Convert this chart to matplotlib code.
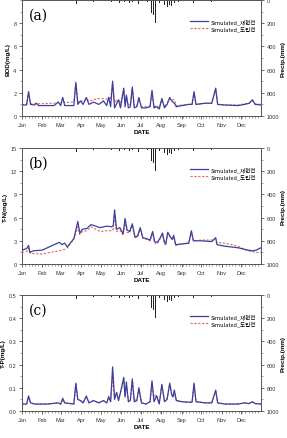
import matplotlib
matplotlib.use('Agg')
import matplotlib.pyplot as plt
import numpy as np

plt.rcParams['font.family'] = ['Liberation Sans', 'Noto Sans CJK KR']

# ---- data ----
months = ['Jan', 'Feb', 'Mar', 'Apr', 'May', 'Jun', 'Jul', 'Aug', 'Sep', 'Oct', 'Nov', 'Dec']
month_days = [1, 32, 60, 91, 121, 152, 182, 213, 244, 274, 305, 335]
labels = ['Simulated_재현전', 'Simulated_도입전']

# precipitation (mm), hanging from the top
rain_day = [5, 20, 33, 45, 58, 70, 78, 84, 95, 103, 110, 120, 127, 133, 138, 145, 150, 157,
            164, 170, 178, 185, 192, 198, 201, 205, 210, 218, 222, 226, 229, 233, 240, 250,
            262, 275, 290, 310, 325, 340, 355]
rain_mm = [5, 10, 6, 8, 6, 12, 8, 35, 10, 8, 15, 10, 12, 8, 20, 10, 25, 15,
           30, 20, 35, 12, 18, 110, 130, 200, 30, 40, 60, 45, 55, 30, 15, 10,
           25, 10, 20, 8, 6, 6, 5]

# (a) BOD
bod_day = [1, 8, 11, 14, 20, 23, 26, 50, 56, 60, 63, 66, 80, 83, 86, 90, 94, 99, 103, 110, 118,
           125, 130, 133, 136, 139, 142, 148, 151, 156, 158, 160, 163, 166, 169, 172, 176, 179,
           183, 190, 196, 199, 202, 206, 210, 214, 218, 222, 226, 229, 233, 236, 245, 255, 260,
           263, 266, 280, 290, 296, 299, 310, 330, 340, 347, 352, 356, 365]
bod_sim = [0.95, 0.95, 2.1, 1.0, 0.95, 1.1, 0.9, 0.9, 1.2, 0.9, 1.6, 0.9, 0.9, 2.9, 1.0, 1.3,
           1.0, 1.6, 1.0, 1.2, 1.0, 1.3, 0.9, 1.6, 0.8, 3.0, 0.7, 1.4, 0.7, 2.4, 0.8, 1.8, 0.7,
           0.8, 2.5, 0.7, 0.8, 1.6, 0.7, 0.7, 0.8, 2.2, 0.7, 0.8, 0.6, 1.5, 0.7, 1.0, 1.6, 1.3,
           1.1, 0.8, 0.9, 1.0, 1.0, 2.1, 1.0, 1.1, 1.1, 2.4, 1.0, 0.95, 0.9, 1.0, 1.1, 1.4, 1.0, 0.95]
bod_alt = [1.0, 1.0, 2.0, 1.05, 1.05, 1.1, 1.05, 1.1, 1.2, 1.1, 1.5, 1.15, 1.2, 2.8, 1.25, 1.3,
           1.25, 1.5, 1.3, 1.4, 1.5, 1.5, 1.45, 1.6, 1.4, 2.8, 1.2, 1.4, 1.1, 2.3, 1.1, 1.7, 1.0,
           1.0, 2.4, 0.9, 0.9, 1.5, 0.8, 0.8, 0.85, 2.1, 0.8, 0.9, 0.7, 1.4, 0.8, 1.1, 1.5, 1.4,
           1.4, 0.9, 0.95, 1.0, 1.0, 2.0, 1.0, 1.1, 1.1, 2.3, 1.0, 0.95, 0.95, 1.05, 1.1, 1.3, 1.05, 1.0]

# (b) T-N
tn_day = [1, 8, 11, 13, 18, 32, 50, 58, 62, 66, 70, 80, 86, 89, 93, 100, 106, 120, 130, 138,
          140, 142, 145, 150, 155, 158, 161, 165, 169, 173, 177, 181, 185, 190, 196, 200, 203,
          207, 211, 215, 218, 220, 223, 227, 230, 232, 235, 245, 255, 259, 262, 274, 290, 296,
          298, 310, 330, 340, 345, 352, 358, 365]
tn_sim = [1.8, 2.0, 2.4, 1.5, 1.7, 1.8, 2.5, 2.8, 2.5, 2.7, 2.2, 3.3, 5.5, 4.0, 4.5, 4.6, 5.1,
          4.7, 4.9, 4.8, 5.0, 7.0, 4.5, 4.7, 3.9, 5.9, 4.4, 4.2, 5.2, 3.5, 3.6, 4.7, 3.4, 3.3,
          3.1, 4.2, 2.9, 2.8, 3.3, 4.0, 2.8, 2.6, 4.1, 3.5, 3.2, 3.7, 2.5, 2.6, 2.7, 4.3, 3.0,
          3.0, 2.9, 3.4, 2.5, 2.3, 2.1, 1.9, 1.8, 1.7, 1.8, 2.1]
tn_alt = [1.5, 1.6, 2.0, 1.4, 1.35, 1.3, 1.6, 1.7, 1.8, 1.9, 2.1, 3.2, 4.8, 3.8, 4.2, 4.3, 4.8,
          4.2, 4.3, 4.3, 4.5, 6.3, 4.2, 4.4, 3.7, 5.5, 4.1, 4.0, 5.0, 3.4, 3.5, 4.5, 3.3, 3.2,
          3.0, 4.0, 2.7, 2.6, 3.2, 3.8, 2.6, 2.5, 4.0, 3.4, 3.1, 3.6, 2.4, 2.6, 2.7, 4.1, 3.0,
          3.1, 3.1, 3.3, 2.8, 2.7, 2.3, 1.9, 1.7, 1.6, 1.5, 1.5]

# (c) T-P
tp_day = [1, 8, 11, 14, 20, 40, 56, 60, 63, 66, 80, 83, 86, 90, 94, 99, 103, 110, 118, 125,
          130, 133, 136, 139, 142, 145, 148, 151, 156, 158, 160, 163, 166, 169, 172, 176, 179,
          183, 190, 196, 199, 202, 206, 210, 214, 218, 222, 226, 229, 231, 233, 236, 245, 255,
          260, 263, 266, 280, 290, 296, 299, 310, 330, 340, 347, 352, 356, 365]
tp_sim = [0.03, 0.03, 0.065, 0.035, 0.03, 0.03, 0.035, 0.03, 0.055, 0.035, 0.03, 0.12, 0.05,
          0.045, 0.035, 0.065, 0.035, 0.045, 0.035, 0.045, 0.035, 0.06, 0.04, 0.19, 0.05, 0.08,
          0.045, 0.08, 0.145, 0.06, 0.125, 0.04, 0.045, 0.135, 0.04, 0.045, 0.1, 0.035, 0.03,
          0.04, 0.13, 0.04, 0.065, 0.03, 0.115, 0.04, 0.05, 0.12, 0.07, 0.06, 0.09, 0.045,
          0.04, 0.038, 0.038, 0.12, 0.04, 0.035, 0.035, 0.09, 0.035, 0.03, 0.03, 0.035, 0.032,
          0.04, 0.032, 0.03]
tp_alt = [0.03, 0.03, 0.06, 0.035, 0.03, 0.03, 0.035, 0.03, 0.05, 0.035, 0.03, 0.115, 0.05,
          0.045, 0.035, 0.06, 0.035, 0.045, 0.035, 0.045, 0.035, 0.065, 0.045, 0.14, 0.06, 0.08,
          0.05, 0.08, 0.135, 0.065, 0.11, 0.045, 0.05, 0.14, 0.045, 0.05, 0.095, 0.035, 0.03,
          0.04, 0.12, 0.06, 0.07, 0.035, 0.11, 0.045, 0.055, 0.115, 0.075, 0.065, 0.085, 0.045,
          0.04, 0.038, 0.038, 0.115, 0.04, 0.035, 0.035, 0.085, 0.035, 0.03, 0.03, 0.035, 0.032,
          0.038, 0.032, 0.03]

panels = [
    ('(a)', 'BOD(mg/L)', 10, [0, 2, 4, 6, 8], ['0', '2', '4', '6', '8'], bod_day, bod_sim, bod_alt),
    ('(b)', 'T-N(mg/L)', 15, [0, 3, 6, 9, 12, 15], ['0', '3', '6', '9', '12', '15'], tn_day, tn_sim, tn_alt),
    ('(c)', 'T-P(mg/L)', 0.5, [0, 0.1, 0.2, 0.3, 0.4, 0.5], ['0.0', '0.1', '0.2', '0.3', '0.4', '0.5'],
     tp_day, tp_sim, tp_alt),
]

W, H = 287, 439
fig = plt.figure(figsize=(W / 100, H / 100), dpi=100)
bottoms = [1 - 117 / H, 1 - 265 / H, 1 - 412 / H]
left, width, height = 22 / W, 239 / W, 116 / H

blue = '#3b3f9c'
red = '#e8615f'
frame = '#555555'

for (tag, ylab, ymax, yt, ytl, xd, ys, rs), b in zip(panels, bottoms):
    ax = fig.add_axes([left, b, width, height])
    ax2 = ax.twinx()

    ax2.bar(rain_day, rain_mm, width=1.5, color='#222222')
    ax2.set_ylim(1000, 0)
    ax2.set_yticks([0, 200, 400, 600, 800, 1000])
    ax2.set_yticks(np.arange(0, 1001, 100), minor=True)
    ax2.set_ylabel('Precip.(mm)', fontsize=4.5, fontweight='bold', labelpad=1)

    l1, = ax.plot(xd, ys, color=blue, lw=0.9, zorder=4)
    l2, = ax.plot(xd, rs, color=red, lw=0.8, ls=(0, (2, 1.5)), zorder=3)
    ax.set_zorder(ax2.get_zorder() + 1)
    ax.patch.set_visible(False)

    ax.set_xlim(1, 365)
    ax.set_ylim(0, ymax)
    ax.set_yticks(yt)
    ax.set_yticklabels(ytl)
    ax.set_yticks(np.arange(0, ymax + 1e-9, ymax / 10), minor=True)
    ax.set_xticks(month_days)
    ax.set_xticklabels(months)
    ax.set_xticks(np.arange(1, 366, 5), minor=True)
    ax.set_ylabel(ylab, fontsize=4.5, fontweight='bold', labelpad=2)
    ax.set_xlabel('DATE', fontsize=4.5, fontweight='bold', labelpad=2)

    for a in (ax, ax2):
        a.tick_params(which='major', direction='out', length=2.5, width=0.5, labelsize=4, pad=1.5, colors='#333333')
        a.tick_params(which='minor', direction='out', length=1.3, width=0.4, colors='#555555')
        for s in a.spines.values():
            s.set_color(frame)
            s.set_linewidth(0.6)

    ax.text(0.03, 0.93, tag, transform=ax.transAxes, fontsize=10, family='DejaVu Serif',
            va='top', ha='left', zorder=5)
    ax.legend([l1, l2], labels, loc='upper right', bbox_to_anchor=(0.99, 0.86), frameon=False,
              prop={'family': 'Noto Sans CJK KR', 'size': 4},
              handlelength=3.2, handletextpad=0.6, labelspacing=0.2, borderaxespad=0)

fig.savefig('out.png', dpi=100)
